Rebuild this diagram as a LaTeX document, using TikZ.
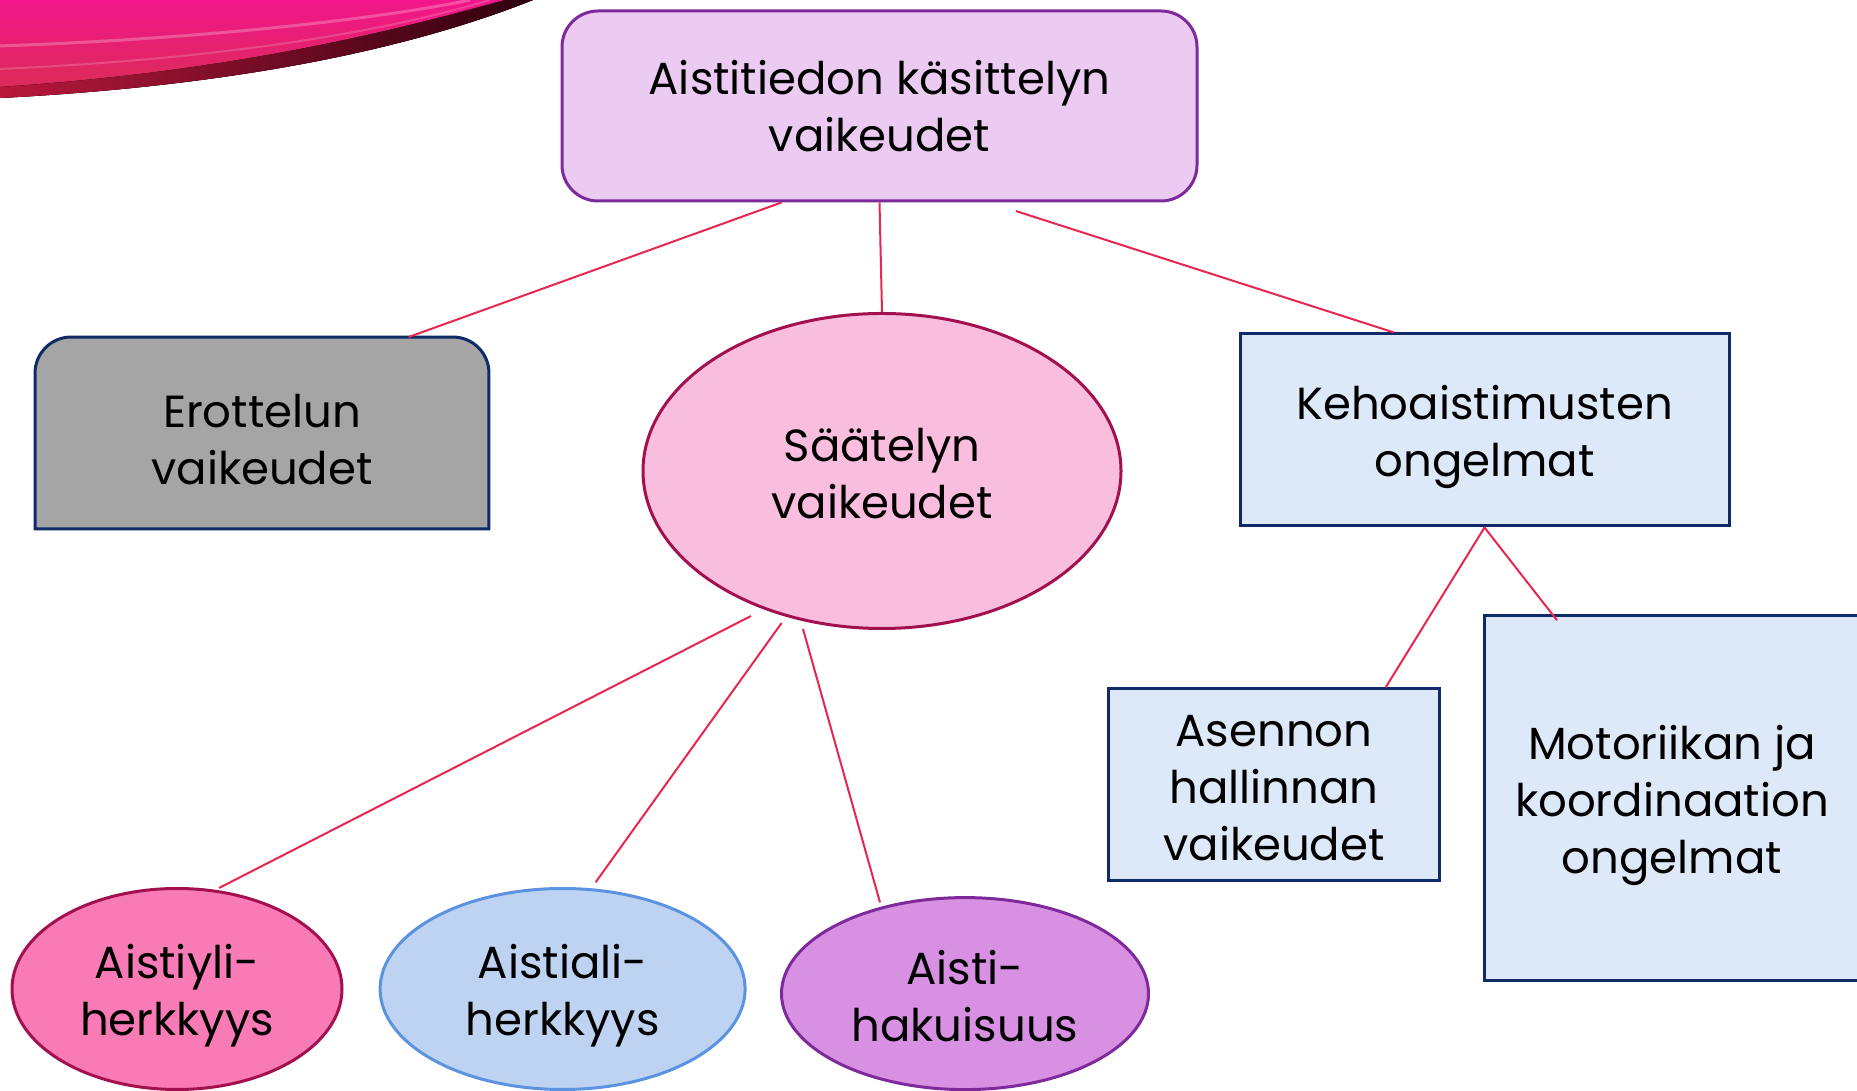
\documentclass[tikz,border=0pt]{standalone}
\usepackage{fontspec}
\setmainfont{Poppins}
\usetikzlibrary{shapes.geometric,calc,backgrounds}
\definecolor{linkred}{HTML}{E8264F}
\definecolor{topfill}{HTML}{ECCBF3}
\definecolor{purpleline}{HTML}{7E2A9B}
\definecolor{navy}{HTML}{0F2A66}
\definecolor{erofill}{HTML}{A5A5A5}
\definecolor{bluefill}{HTML}{DDE8F8}
\definecolor{pinkfill}{HTML}{F9BEDD}
\definecolor{crimsonline}{HTML}{A3104F}
\definecolor{hotpinkfill}{HTML}{F97BB6}
\definecolor{lightbluefill}{HTML}{BDD3F1}
\definecolor{blueline}{HTML}{5B93E0}
\definecolor{violetfill}{HTML}{D890E3}
\definecolor{swtop}{HTML}{F2168A}
\definecolor{swbot}{HTML}{D82E52}
\definecolor{swdark}{HTML}{2E000E}
\definecolor{swmid}{HTML}{B8183C}
% first line of a node, with its text moved down by #1
\newcommand\firstln[2]{\setbox0\hbox{#2}\rule{0pt}{\dimexpr\ht0+2\dimexpr#1\relax\relax}#2}
\tikzset{
  lbl/.style={font=\fontsize{45}{57}\selectfont, align=center, text=black, inner sep=0pt},
  sqbox/.style={lbl, draw=navy, fill=bluefill, line width=3pt},
  oval/.style={lbl, ellipse, line width=3pt},
  link/.style={draw=linkred, line width=2pt}
}
\begin{document}
\begin{tikzpicture}[x=1pt,y=1pt]
\useasboundingbox (0,0) rectangle (1857,1091);
\clip (0,0) rectangle (1857,1091);

% decorative swoosh
\fill[top color=swtop, bottom color=swbot]
  (0,1091) -- (533,1091) .. controls (420,1046) and (250,1006) .. (0,993) -- cycle;
\fill[left color=swmid, right color=swdark]
  (0,993) .. controls (250,1006) and (420,1046) .. (533,1091)
  -- (505,1091) .. controls (400,1062) and (240,1020) .. (0,1004) -- cycle;
\draw[white, opacity=0.25, line width=3pt]
  (0,1045) .. controls (200,1052) and (380,1072) .. (470,1091);
\draw[white, opacity=0.18, line width=2pt]
  (0,1022) .. controls (220,1032) and (380,1058) .. (490,1091);

% nodes
\node[lbl, draw=purpleline, fill=topfill, rounded corners=36pt, line width=3pt,
      minimum width=635pt, minimum height=190pt] (top) at (879.5,985)
  {Aistitiedon käsittelyn\\vaikeudet};

\node[lbl, minimum width=453.5pt, minimum height=191.5pt] (ero) at (262,658)
  {\firstln{7pt}{Erottelun}\\vaikeudet};
\begin{scope}[on background layer]
\filldraw[fill=erofill, draw=navy, line width=3pt]
  (ero.south west) -- ([yshift=-36pt]ero.north west)
  arc[start angle=180, end angle=90, radius=36pt]
  -- ([xshift=-36pt]ero.north east)
  arc[start angle=90, end angle=0, radius=36pt]
  -- (ero.south east) -- cycle;
\end{scope}

\node[oval, draw=crimsonline, fill=pinkfill, minimum width=478pt, minimum height=315pt]
  (saa) at (882,620) {\firstln{2.5pt}{Säätelyn}\\vaikeudet};

\node[sqbox, minimum width=489pt, minimum height=192pt] (keho) at (1484.5,661)
  {\firstln{7pt}{Kehoaistimusten}\\ongelmat};
\node[sqbox, minimum width=331pt, minimum height=192pt] (ase) at (1274,306)
  {\firstln{3.5pt}{Asennon}\\hallinnan\\vaikeudet};
\node[sqbox, minimum width=376pt, minimum height=365pt] (mot) at (1672,292.5)
  {\firstln{7pt}{Motoriikan ja}\\koordinaation\\ongelmat};

\node[oval, draw=crimsonline, fill=hotpinkfill, minimum width=330pt, minimum height=201pt]
  (yli) at (177,102) {\firstln{7pt}{Aistiyli-}\\herkkyys};
\node[oval, draw=blueline, fill=lightbluefill, minimum width=365pt, minimum height=201pt]
  (ali) at (562.6,102) {\firstln{7pt}{Aistiali-}\\herkkyys};
\node[oval, draw=purpleline, fill=violetfill, minimum width=367pt, minimum height=192pt]
  (hak) at (965,97.4) {\firstln{2.5pt}{Aisti-}\\hakuisuus};

% connectors
\draw[link] ([xshift=-98pt]top.south) -- ([xshift=146.6pt]ero.north);
\draw[link] (top.south) -- (saa.north);
\draw[link] ([xshift=136.5pt,yshift=-8.6pt]top.south) -- ([xshift=-90.5pt]keho.north);
\draw[link] ([shift={(-131pt,-145pt)}]saa.center) -- ([shift={(42pt,101pt)}]yli.center);
\draw[link] ([shift={(-100.4pt,-152pt)}]saa.center) -- ([shift={(33pt,106.7pt)}]ali.center);
\draw[link] ([shift={(-79pt,-158pt)}]saa.center) -- ([shift={(-85pt,91.2pt)}]hak.center);
\draw[link] (keho.south) -- ([xshift=111.6pt]ase.north);
\draw[link] (keho.south) -- ([shift={(-115pt,-5.8pt)}]mot.north);
\end{tikzpicture}
\end{document}
